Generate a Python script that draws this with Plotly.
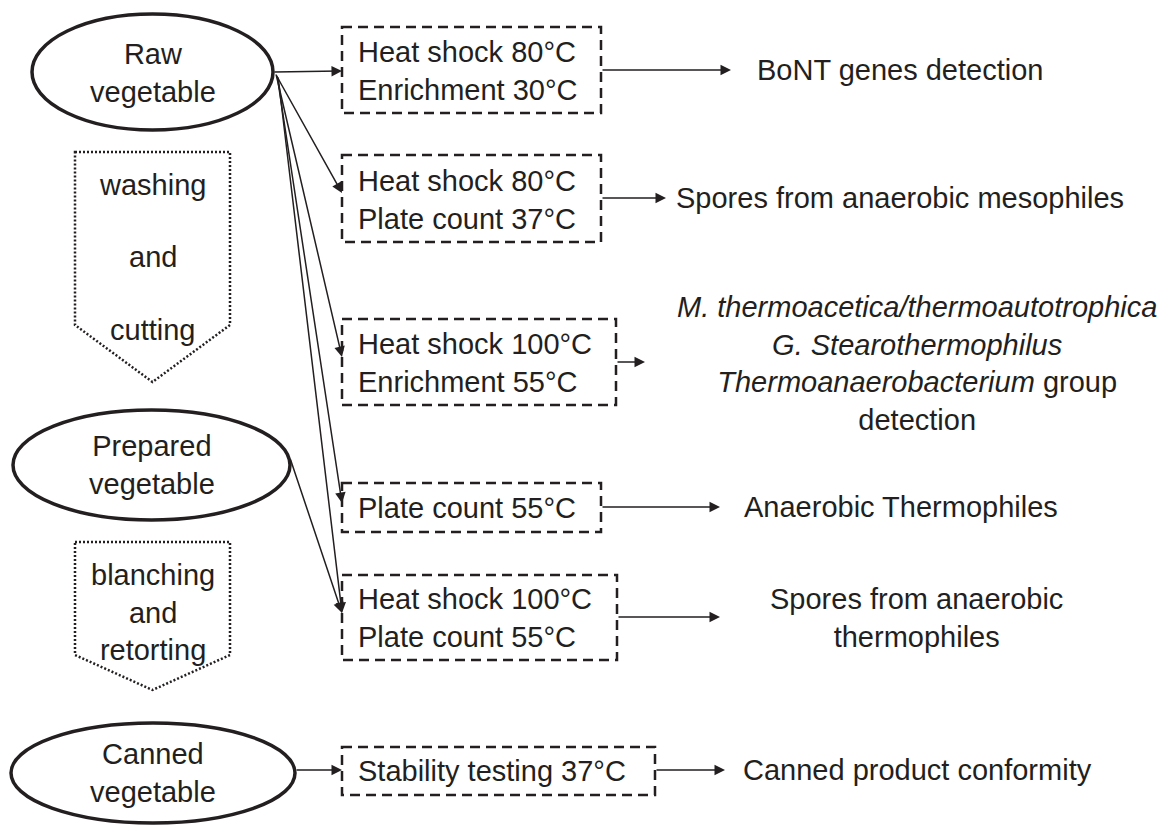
import plotly.graph_objects as go

# stages of the product (ellipses) and the processing steps between them
stages = ["Raw<br>vegetable", "Prepared<br>vegetable", "Canned<br>vegetable"]
steps = [["washing", "and", "cutting"], ["blanching<br>and<br>retorting"]]

# analyses (dashed boxes) and what they detect
analyses = [
    "Heat shock 80°C<br>Enrichment 30°C",
    "Heat shock 80°C<br>Plate count 37°C",
    "Heat shock 100°C<br>Enrichment 55°C",
    "Plate count 55°C",
    "Heat shock 100°C<br>Plate count 55°C",
    "Stability testing 37°C",
]
results = [
    "BoNT genes detection",
    "Spores from anaerobic mesophiles",
    "<i>M. thermoacetica/thermoautotrophica</i><br><i>G. Stearothermophilus</i><br>"
    "<i>Thermoanaerobacterium</i> group<br>detection",
    "Anaerobic Thermophiles",
    "Spores from anaerobic<br>thermophiles",
    "Canned product conformity",
]
# which stage each analysis is taken from (raw feeds 5 of them, prepared also feeds box 5)
links = [(0, 0), (0, 1), (0, 2), (0, 3), (0, 4), (1, 4), (2, 5)]

# layout in page pixels (axes below map 1:1 onto the browser page)
stage_box = [(32, 14, 273, 130), (13, 410, 290, 520), (11, 723, 295, 823)]
stage_text_y = [73, 465, 773]
step_box = [(75, 152, 230, 325, 382), (75, 542, 230, 655, 690)]
box = [(342, 27, 601, 113), (342, 155, 601, 242), (342, 319, 616, 405),
       (342, 483, 601, 532), (342, 575, 617, 660), (342, 747, 655, 795)]
box_text_y = [71, 200, 363, 508, 618, 771]
link_from = [(273, 72), (275, 73), (276, 74), (277, 75), (278, 76), (290, 458), (295, 770)]
link_to = [(342, 71), (342, 193), (342, 357), (342, 503), (342, 613), (342, 613), (342, 770)]
result_arrow = [(601, 731, 70), (601, 666, 198), (616, 645, 362),
                (601, 720, 507), (617, 720, 617), (655, 725, 770)]
result_pos = [(900, 70), (900, 198), (917, 363), (901, 507), (916, 618), (917, 770)]

FONT = "Liberation Sans, Arial, sans-serif"
INK = "#231f20"
SIZE = 29

fig = go.Figure()
shapes = []
annotations = []

def label(x, y, text, anchor="center"):
    annotations.append(dict(x=x, y=y, xref="x", yref="y", text=text, showarrow=False,
                            xanchor=anchor, yanchor="middle", align=anchor,
                            font=dict(family=FONT, size=SIZE, color=INK)))

for (x0, y0, x1, y1), ty, txt in zip(stage_box, stage_text_y, stages):
    shapes.append(dict(type="circle", xref="x", yref="y", x0=x0, y0=y0, x1=x1, y1=y1,
                       line=dict(color=INK, width=3.5)))
    label((x0 + x1) / 2, ty, txt)

for (x0, y0, x1, y1, tip), txt in zip(step_box, steps):
    xm = (x0 + x1) / 2
    path = f"M {x0},{y0} L {x1},{y0} L {x1},{y1} L {xm},{tip} L {x0},{y1} Z"
    shapes.append(dict(type="path", xref="x", yref="y", path=path,
                       line=dict(color=INK, width=2.5, dash="2px,2px")))
    if len(txt) == 3:
        for t, yy in zip(txt, [y0 + 33, y0 + 105, y0 + 178]):
            label(xm, yy, t)
    else:
        label(xm, y0 + 70, txt[0])

for (x0, y0, x1, y1), ty, txt in zip(box, box_text_y, analyses):
    shapes.append(dict(type="rect", xref="x", yref="y", x0=x0, y0=y0, x1=x1, y1=y1,
                       line=dict(color=INK, width=2.5, dash="10px,6px")))
    label(x0 + 14, ty, txt, anchor="left")

def arrow(x0, y0, x1, y1):
    annotations.append(dict(x=x1, y=y1, ax=x0, ay=y0, xref="x", yref="y", axref="x", ayref="y",
                            text="", showarrow=True, arrowhead=2, arrowsize=1.4, arrowwidth=1.5,
                            arrowcolor=INK, standoff=0, startstandoff=0))

for (s, b), (fx, fy), (tx, ty) in zip(links, link_from, link_to):
    arrow(fx, fy, tx, ty)

for (x0, x1, y), (px, py), txt in zip(result_arrow, result_pos, results):
    arrow(x0, y, x1, y)
    label(px, py, txt, anchor="center")

# the page body has an 8px margin, so the figure is shrunk by that and the axes start at 8
fig.update_layout(width=1163, height=817, margin=dict(l=0, r=0, t=0, b=0),
                  paper_bgcolor="white", plot_bgcolor="white",
                  shapes=shapes, annotations=annotations, showlegend=False)
fig.update_xaxes(range=[8, 1171], visible=False, fixedrange=True)
fig.update_yaxes(range=[825, 8], visible=False, fixedrange=True)

fig.write_html("out.html")
